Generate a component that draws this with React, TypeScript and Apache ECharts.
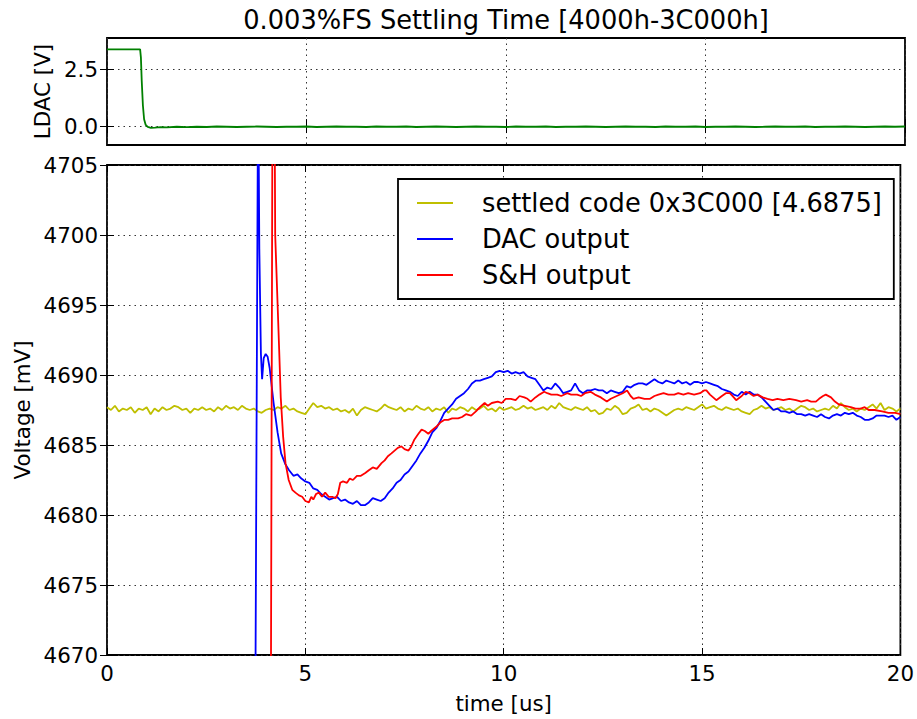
import React, { useEffect, useRef } from 'react';
import * as echarts from 'echarts';

const FONT = 'DejaVu Sans';
const TITLE = '0.003%FS Settling Time [4000h-3C000h]';
const SERIES_NAMES = ['settled code 0x3C000 [4.6875]', 'DAC output', 'S&H output'];

const ldacTicks = [0, 2.5];
const ldacMin = -0.83;
const ldacMax = 3.86;
const voltMin = 4670;
const voltMax = 4705;
const voltStep = 5;
const timeMin = 0;
const timeMax = 20;
const timeStep = 5;

// LDAC [V] – edge (irregular samples) followed by a regularly sampled tail
const ldacEdge: [number, number][] = [
  [0, 3.36], [0.83, 3.36], [0.85, 3.0], [0.87, 2.0], [0.9, 0.9], [0.93, 0.3],
  [0.97, 0.05], [1.02, -0.04], [1.1, -0.08], [1.2, -0.07], [1.35, -0.05], [1.5, -0.06],
];
const ldacTailStart = 1.75;
const ldacTailStep = 0.25;
const ldacTail = [
  -0.03, -0.05, -0.03, -0.04, -0.02, -0.03, -0.04, -0.03, -0.02, -0.03,
  -0.04, -0.03, -0.03, -0.02, -0.04, -0.03, -0.02, -0.03, -0.03, -0.04,
  -0.02, -0.03, -0.03, -0.02, -0.04, -0.03, -0.02, -0.03, -0.04, -0.03,
  -0.02, -0.03, -0.03, -0.04, -0.02, -0.03, -0.03, -0.02, -0.04, -0.03,
  -0.03, -0.02, -0.03, -0.04, -0.03, -0.02, -0.03, -0.03, -0.04, -0.02,
  -0.03, -0.03, -0.02, -0.04, -0.03, -0.03, -0.02, -0.03, -0.04, -0.03,
  -0.02, -0.03, -0.03, -0.02, -0.04, -0.03, -0.03, -0.02, -0.03, -0.04,
  -0.03, -0.02, -0.03, -0.02,
];

// settled code reference trace [mV], sampled every 0.1 us from 0
const settledStart = 0;
const settledStep = 0.1;
const settledValue = [
  4687.7, 4687.5, 4687.8, 4687.4, 4687.6, 4687.5, 4687.7, 4687.3, 4687.6, 4687.5, 4687.7,
  4687.2, 4687.6, 4687.4, 4687.7, 4687.5, 4687.6, 4687.8, 4687.7, 4687.5, 4687.6,
  4687.3, 4687.6, 4687.5, 4687.7, 4687.5, 4687.6, 4687.4, 4687.7, 4687.5, 4687.8,
  4687.6, 4687.7, 4687.5, 4687.8, 4687.6, 4687.5, 4687.6, 4687.4, 4687.3, 4687.5,
  4687.6, 4687.5, 4687.7, 4687.6, 4687.8, 4687.5, 4687.6, 4687.4, 4687.3, 4687.2,
  4687.6, 4688.0, 4687.7, 4687.8, 4687.6, 4687.7, 4687.5, 4687.6, 4687.4, 4687.5,
  4687.3, 4687.6, 4687.1, 4687.5, 4687.7, 4687.6, 4687.5, 4687.4, 4687.6, 4687.9,
  4687.7, 4687.6, 4687.5, 4687.7, 4687.4, 4687.6, 4687.5, 4687.8, 4687.6, 4687.5,
  4687.7, 4687.4, 4687.6, 4687.5, 4687.7, 4687.3, 4687.6, 4687.5, 4687.7, 4687.6,
  4687.4, 4687.7, 4687.5, 4687.6, 4687.8, 4687.5, 4687.6, 4687.4, 4687.7, 4687.5,
  4687.6, 4687.7, 4687.5, 4687.6, 4687.8, 4687.6, 4687.7, 4687.5, 4687.6, 4687.7,
  4687.5, 4687.8, 4687.6, 4688.0, 4687.7, 4687.6, 4687.5, 4687.7, 4687.6, 4687.5,
  4687.7, 4687.4, 4687.5, 4687.2, 4687.3, 4687.6, 4687.5, 4687.8, 4687.6, 4687.2,
  4687.3, 4687.6, 4687.7, 4687.9, 4687.5, 4687.6, 4687.4, 4687.6, 4687.5, 4687.3,
  4687.1, 4687.3, 4687.5, 4687.6, 4687.5, 4687.7, 4687.6, 4687.5, 4687.7, 4687.9,
  4687.6, 4687.7, 4687.8, 4687.6, 4687.5, 4687.7, 4687.6, 4687.5, 4687.6, 4687.4,
  4687.3, 4687.2, 4687.5, 4687.6, 4687.8, 4687.6, 4687.7, 4687.5, 4687.6, 4687.7,
  4687.5, 4687.6, 4687.4, 4687.6, 4687.8, 4687.7, 4687.5, 4687.6, 4687.4, 4687.5,
  4687.6, 4687.5, 4687.8, 4687.6, 4688.0, 4687.7, 4687.5, 4687.6, 4687.4, 4687.6,
  4687.5, 4687.7, 4687.9, 4687.6, 4688.0, 4687.5, 4687.7, 4687.6, 4687.4, 4687.6,
];

// DAC output [mV]: step edge (irregular samples), then every 0.1 us from 5.0
const dacEdge: [number, number][] = [
  [0, 312.5], [3.7, 312.5], [3.73, 4660], [3.81, 4712], [3.84, 4699], [3.88, 4691.5],
  [3.91, 4689.7], [3.95, 4691.2], [4.0, 4691.5], [4.05, 4691.3], [4.1, 4690.5],
  [4.2, 4688.0], [4.3, 4685.9], [4.39, 4684.4], [4.5, 4683.6], [4.59, 4683.2],
  [4.7, 4682.8], [4.8, 4682.9], [4.9, 4682.6],
];
const dacTailStart = 5.0;
const dacTailStep = 0.1;
const dacTail = [
  4682.4, 4682.3, 4681.9, 4681.8, 4681.5, 4681.3, 4681.1, 4681.2, 4681.3, 4681.0,
  4681.1, 4680.9, 4680.8, 4681.0, 4680.7, 4680.7, 4680.9, 4681.2, 4681.1, 4681.0,
  4681.2, 4681.6, 4681.9, 4682.3, 4682.5, 4682.9, 4683.1, 4683.5, 4683.9, 4684.4,
  4684.8, 4685.3, 4685.9, 4686.2, 4686.7, 4687.3, 4687.6, 4687.9, 4688.3, 4688.5,
  4688.7, 4689.0, 4689.4, 4689.6, 4689.6, 4689.7, 4689.8, 4689.9, 4690.2, 4690.3,
  4690.2, 4690.3, 4690.1, 4690.2, 4690.1, 4690.2, 4689.9, 4689.8, 4689.7, 4689.3,
  4688.9, 4689.1, 4689.0, 4689.4, 4689.1, 4688.7, 4688.8, 4688.9, 4689.4, 4688.9,
  4688.7, 4688.9, 4688.9, 4689.0, 4688.9, 4688.9, 4688.7, 4688.9, 4688.8, 4688.7,
  4688.8, 4689.2, 4689.1, 4689.3, 4689.4, 4689.4, 4689.3, 4689.5, 4689.7, 4689.5,
  4689.4, 4689.6, 4689.5, 4689.4, 4689.6, 4689.4, 4689.5, 4689.3, 4689.5, 4689.5,
  4689.4, 4689.5, 4689.4, 4689.3, 4689.2, 4689.0, 4688.9, 4688.8, 4688.6, 4688.5,
  4688.8, 4688.6, 4688.8, 4688.6, 4688.6, 4688.4, 4688.1, 4687.8, 4687.5, 4687.6,
  4687.4, 4687.4, 4687.3, 4687.4, 4687.2, 4687.2, 4687.1, 4687.2, 4687.1, 4687.0,
  4687.2, 4687.0, 4686.9, 4687.1, 4687.2, 4687.1, 4687.3, 4687.2, 4687.3, 4687.1,
  4687.0, 4686.8, 4686.8, 4686.9, 4687.1, 4687.1, 4687.1, 4687.0, 4687.1, 4686.8,
  4687.0,
];

// S&H output [mV] (time [us], value)
const shOutput: [number, number][] = [
  [0, 312.5], [4.11, 312.5], [4.125, 4660], [4.19, 4730], [4.24, 4700], [4.34, 4691.8],
  [4.38, 4688.4], [4.44, 4685.6], [4.5, 4683.7], [4.58, 4682.5], [4.67, 4681.8],
  [4.75, 4681.6], [4.84, 4681.4], [4.92, 4681.3], [5.0, 4681.0], [5.09, 4680.9],
  [5.15, 4681.3], [5.2, 4681.1], [5.27, 4681.5], [5.34, 4681.6], [5.42, 4681.3],
  [5.5, 4681.6], [5.59, 4681.3], [5.68, 4681.3], [5.76, 4681.2], [5.82, 4681.5],
  [5.88, 4682.3], [5.95, 4682.4], [6.05, 4682.3], [6.12, 4682.6], [6.2, 4682.5],
  [6.3, 4682.8], [6.4, 4682.8], [6.51, 4683.0], [6.6, 4683.2], [6.7, 4683.4],
  [6.8, 4683.3], [6.92, 4683.7], [7.0, 4683.9], [7.08, 4684.2], [7.17, 4684.4],
  [7.25, 4684.6], [7.33, 4684.8], [7.42, 4684.9], [7.5, 4684.7], [7.6, 4684.6],
  [7.67, 4684.9], [7.75, 4685.4], [7.85, 4685.8], [7.93, 4686.1], [8.01, 4686.0],
  [8.1, 4685.8], [8.17, 4686.0], [8.3, 4686.3], [8.4, 4686.6], [8.51, 4686.8],
  [8.6, 4686.8], [8.7, 4686.9], [8.85, 4686.9], [8.95, 4687.0], [9.05, 4687.2],
  [9.18, 4687.1], [9.3, 4687.4], [9.4, 4687.7], [9.52, 4688.0], [9.6, 4687.8],
  [9.7, 4688.0], [9.85, 4688.1], [9.95, 4688.0], [10.05, 4688.3], [10.18, 4688.3],
  [10.3, 4688.2], [10.4, 4688.5], [10.52, 4688.4], [10.6, 4688.3], [10.68, 4688.1],
  [10.8, 4688.4], [10.9, 4688.6], [11.02, 4688.8], [11.1, 4688.7], [11.2, 4688.6],
  [11.35, 4688.6], [11.45, 4688.5], [11.6, 4688.7], [11.7, 4688.6], [11.85, 4688.6],
  [11.95, 4688.5], [12.05, 4688.7], [12.19, 4688.8], [12.3, 4688.6], [12.45, 4688.4],
  [12.6, 4688.1], [12.7, 4688.3], [12.85, 4688.5], [13.0, 4688.7], [13.11, 4688.9],
  [13.2, 4688.5], [13.27, 4688.3], [13.4, 4688.4], [13.55, 4688.3], [13.69, 4688.3],
  [13.8, 4688.5], [13.9, 4688.6], [14.03, 4688.7], [14.15, 4688.6], [14.3, 4688.6],
  [14.4, 4688.7], [14.53, 4688.6], [14.65, 4688.7], [14.8, 4688.6], [14.95, 4688.7],
  [15.05, 4688.9], [15.11, 4688.9], [15.2, 4688.6], [15.36, 4688.2], [15.5, 4688.5],
  [15.6, 4688.7], [15.7, 4688.7], [15.8, 4688.4], [15.86, 4688.2], [16.0, 4688.5],
  [16.1, 4688.8], [16.2, 4688.7], [16.3, 4688.5], [16.4, 4688.6], [16.53, 4688.4],
  [16.65, 4688.3], [16.78, 4688.2], [16.9, 4688.3], [17.05, 4688.2], [17.2, 4688.3],
  [17.37, 4688.2], [17.5, 4688.1], [17.65, 4688.2], [17.75, 4688.1], [17.87, 4688.1],
  [17.95, 4688.3], [18.05, 4688.5], [18.12, 4688.6], [18.25, 4688.4], [18.35, 4688.1],
  [18.45, 4687.9], [18.6, 4687.8], [18.75, 4687.7], [18.87, 4687.6], [19.0, 4687.6],
  [19.1, 4687.7], [19.2, 4687.5], [19.35, 4687.5], [19.54, 4687.4], [19.7, 4687.3],
  [19.87, 4687.3], [20.0, 4687.2],
];

const sampled = (start: number, step: number, values: number[]) =>
  values.map((v, i) => [Math.round((start + i * step) * 1000) / 1000, v]);

const TICK_FONT = 21.4;
const BIG_FONT = 25.7;

export default function App() {
  const ref = useRef<HTMLDivElement>(null);
  useEffect(() => {
    document.body.style.margin = '0';
    if (!ref.current) return;
    const chart = echarts.init(ref.current, undefined, { renderer: 'svg' });

    const ldacData = [...ldacEdge, ...sampled(ldacTailStart, ldacTailStep, ldacTail)];
    const settledData = sampled(settledStart, settledStep, settledValue);
    const dacData = [...dacEdge, ...sampled(dacTailStart, dacTailStep, dacTail)];

    const tick = { show: true, inside: true, length: 7, lineStyle: { color: '#000', width: 1 } };
    const grid = { color: '#333', width: 1, type: [1.5, 4] as any };
    const label = { color: '#000', fontSize: TICK_FONT, fontFamily: FONT, margin: 9 };

    const xCommon = { type: 'value', min: timeMin, max: timeMax, interval: timeStep, axisLine: { show: false } };
    const lineCommon = { type: 'line', showSymbol: false, symbol: 'none', silent: true, clip: true };

    chart.setOption({
      animation: false,
      textStyle: { fontFamily: FONT },
      graphic: [
        {
          type: 'text',
          x: 506,
          y: 20,
          style: {
            text: TITLE,
            fontSize: BIG_FONT,
            fontFamily: FONT,
            fill: '#000',
            align: 'center',
            verticalAlign: 'middle',
          },
        },
      ],
      grid: [
        { left: 107, top: 38, width: 798, height: 107, show: true, borderColor: '#000', borderWidth: 1.8, backgroundColor: 'transparent' },
        { left: 107, top: 165, width: 798, height: 490, show: true, borderColor: '#000', borderWidth: 1.8, backgroundColor: 'transparent' },
      ],
      xAxis: [
        { ...xCommon, gridIndex: 0, position: 'bottom', axisTick: tick, axisLabel: { show: false }, splitLine: { show: true, lineStyle: grid } },
        {
          ...xCommon, gridIndex: 1, position: 'bottom', axisTick: tick,
          axisLabel: { ...label, margin: 8, formatter: (v: number) => String(v) },
          splitLine: { show: true, lineStyle: grid },
          name: 'time [us]', nameLocation: 'middle', nameGap: 38,
          nameTextStyle: { color: '#000', fontSize: TICK_FONT, fontFamily: FONT },
        },
        { ...xCommon, gridIndex: 0, position: 'top', axisTick: tick, axisLabel: { show: false }, splitLine: { show: false } },
        { ...xCommon, gridIndex: 1, position: 'top', axisTick: tick, axisLabel: { show: false }, splitLine: { show: false } },
      ],
      yAxis: [
        {
          type: 'value', gridIndex: 0, min: ldacMin, max: ldacMax, position: 'left',
          axisLine: { show: false },
          axisTick: { ...tick, customValues: ldacTicks },
          axisLabel: { ...label, customValues: ldacTicks, formatter: (v: number) => v.toFixed(1) },
          splitLine: { show: true, lineStyle: grid },
          name: 'LDAC [V]', nameLocation: 'middle', nameGap: 52,
          nameTextStyle: { color: '#000', fontSize: TICK_FONT, fontFamily: FONT },
        },
        {
          type: 'value', gridIndex: 1, min: voltMin, max: voltMax, interval: voltStep, position: 'left',
          axisLine: { show: false }, axisTick: tick,
          axisLabel: { ...label, formatter: (v: number) => String(v) },
          splitLine: { show: true, lineStyle: grid },
          name: 'Voltage [mV]', nameLocation: 'middle', nameGap: 72,
          nameTextStyle: { color: '#000', fontSize: TICK_FONT, fontFamily: FONT },
        },
        {
          type: 'value', gridIndex: 0, min: ldacMin, max: ldacMax, position: 'right',
          axisLine: { show: false }, axisTick: { ...tick, customValues: ldacTicks },
          axisLabel: { show: false }, splitLine: { show: false },
        },
        {
          type: 'value', gridIndex: 1, min: voltMin, max: voltMax, interval: voltStep, position: 'right',
          axisLine: { show: false }, axisTick: tick, axisLabel: { show: false }, splitLine: { show: false },
        },
      ],
      legend: {
        orient: 'vertical',
        left: 398,
        top: 179,
        data: SERIES_NAMES,
        icon: 'rect',
        itemWidth: 36,
        itemHeight: 2,
        itemGap: 10,
        padding: [11, 12, 11, 19],
        borderColor: '#000',
        borderWidth: 1.8,
        borderRadius: 0,
        backgroundColor: '#fff',
        selectedMode: false,
        textStyle: { color: '#000', fontSize: BIG_FONT, fontFamily: FONT, lineHeight: 26, padding: [0, 0, 0, 24] },
      },
      series: [
        { ...lineCommon, name: 'LDAC', xAxisIndex: 0, yAxisIndex: 0, data: ldacData, lineStyle: { color: '#008000', width: 1.8 }, itemStyle: { color: '#008000' } },
        { ...lineCommon, name: SERIES_NAMES[0], xAxisIndex: 1, yAxisIndex: 1, data: settledData, lineStyle: { color: '#bfbf00', width: 1.8 }, itemStyle: { color: '#bfbf00' } },
        { ...lineCommon, name: SERIES_NAMES[1], xAxisIndex: 1, yAxisIndex: 1, data: dacData, lineStyle: { color: '#0000ff', width: 1.8 }, itemStyle: { color: '#0000ff' } },
        { ...lineCommon, name: SERIES_NAMES[2], xAxisIndex: 1, yAxisIndex: 1, data: shOutput, lineStyle: { color: '#ff0000', width: 1.8 }, itemStyle: { color: '#ff0000' } },
      ],
    });
    return () => chart.dispose();
  }, []);
  return <div ref={ref} style={{ width: 917, height: 719 }} />;
}
